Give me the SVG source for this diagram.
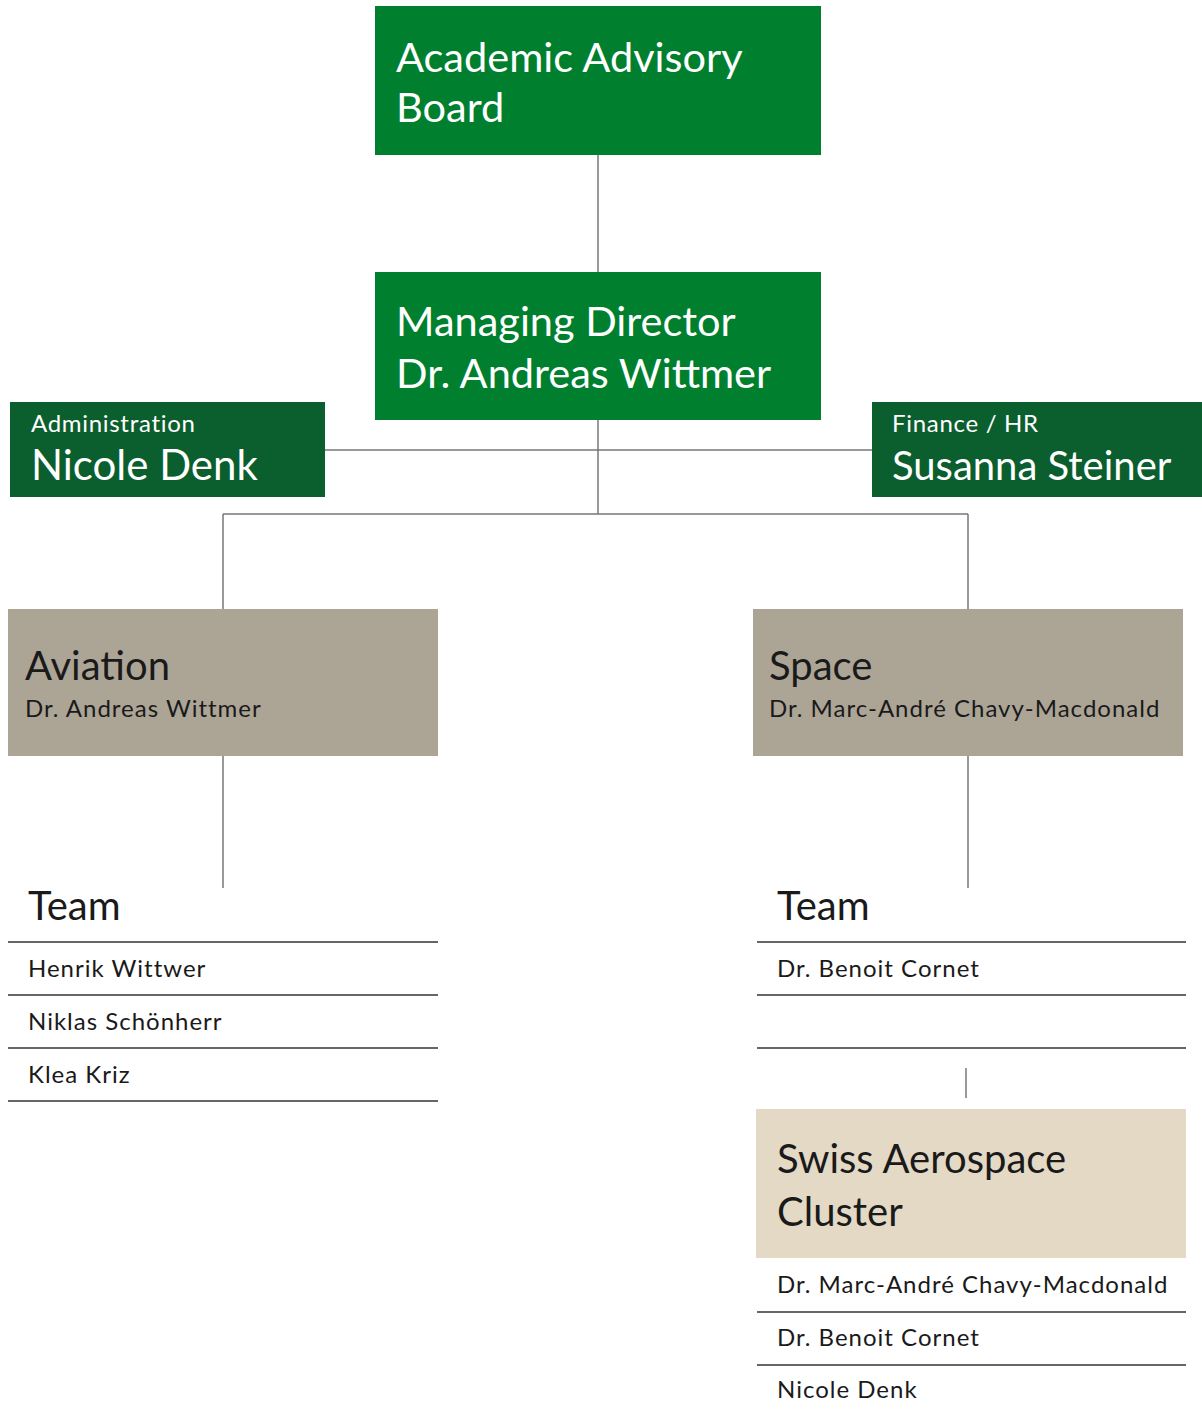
<svg xmlns="http://www.w3.org/2000/svg" width="1202" height="1415" viewBox="0 0 1202 1415">
<style>
text{font-family:Lato,"Open Sans","Liberation Sans",sans-serif}
.g1{fill:#007f2f}
.g2{fill:#0b5e2d}
.gr{fill:#aca596}
.be{fill:#e3d9c5}
.w{fill:#ffffff}
.k{fill:#1a1a1a}
.big{font-size:41.5px}
.mid{font-size:40px}
.sm{font-size:24px;letter-spacing:1px}
.conn line{stroke:#777;stroke-width:1.5}
.rule{stroke:#666;stroke-width:2}
</style>
<rect width="1202" height="1415" fill="#ffffff"/>
<g id="connectors" class="conn">
<line x1="598" y1="155" x2="598" y2="272"/>
<line x1="598" y1="420" x2="598" y2="514"/>
<line x1="325" y1="450" x2="872" y2="450"/>
<line x1="223" y1="514" x2="968" y2="514"/>
<line x1="223" y1="514" x2="223" y2="609"/>
<line x1="968" y1="514" x2="968" y2="609"/>
<line x1="223" y1="756" x2="223" y2="888"/>
<line x1="968" y1="756" x2="968" y2="888"/>
<line x1="966" y1="1068" x2="966" y2="1098"/>
</g>
<g id="academic-advisory-board">
<rect class="g1" x="375" y="6" width="446" height="149"/>
<text class="w big" x="396" y="72">Academic Advisory</text>
<text class="w big" x="396" y="122">Board</text>
</g>
<g id="managing-director">
<rect class="g1" x="375" y="272" width="446" height="148"/>
<text class="w big" x="396" y="336">Managing Director</text>
<text class="w big" x="396" y="388">Dr. Andreas Wittmer</text>
</g>
<g id="administration">
<rect class="g2" x="10" y="402" width="315" height="95"/>
<text class="w sm" x="31" y="432" style="letter-spacing:0.7px">Administration</text>
<text class="w mid" x="31" y="480" style="font-size:42px">Nicole Denk</text>
</g>
<g id="finance-hr">
<rect class="g2" x="872" y="402" width="330" height="95"/>
<text class="w sm" x="892" y="432" style="letter-spacing:0.7px">Finance / HR</text>
<text class="w mid" x="892" y="480">Susanna Steiner</text>
</g>
<g id="aviation">
<rect class="gr" x="8" y="609" width="430" height="147"/>
<text class="k mid" x="25" y="680">Aviation</text>
<text class="k sm" x="25" y="717">Dr. Andreas Wittmer</text>
</g>
<g id="space">
<rect class="gr" x="753" y="609" width="430" height="147"/>
<text class="k mid" x="769" y="680">Space</text>
<text class="k sm" x="769" y="717">Dr. Marc-André Chavy-Macdonald</text>
</g>
<g id="aviation-team">
<text class="k mid" x="28" y="920">Team</text>
<line class="rule" x1="8" y1="942" x2="438" y2="942"/>
<text class="k sm" x="28" y="977">Henrik Wittwer</text>
<line class="rule" x1="8" y1="995" x2="438" y2="995"/>
<text class="k sm" x="28" y="1030">Niklas Schönherr</text>
<line class="rule" x1="8" y1="1048" x2="438" y2="1048"/>
<text class="k sm" x="28" y="1083">Klea Kriz</text>
<line class="rule" x1="8" y1="1101" x2="438" y2="1101"/>
</g>
<g id="space-team">
<text class="k mid" x="777" y="920">Team</text>
<line class="rule" x1="757" y1="942" x2="1186" y2="942"/>
<text class="k sm" x="777" y="977">Dr. Benoit Cornet</text>
<line class="rule" x1="757" y1="995" x2="1186" y2="995"/>
<line class="rule" x1="757" y1="1048" x2="1186" y2="1048"/>
</g>
<g id="swiss-aerospace-cluster">
<rect class="be" x="756" y="1109" width="430" height="149"/>
<text class="k mid" x="777" y="1173">Swiss Aerospace</text>
<text class="k mid" x="777" y="1226">Cluster</text>
<text class="k sm" x="777" y="1293">Dr. Marc-André Chavy-Macdonald</text>
<line class="rule" x1="757" y1="1312" x2="1186" y2="1312"/>
<text class="k sm" x="777" y="1346">Dr. Benoit Cornet</text>
<line class="rule" x1="757" y1="1365" x2="1186" y2="1365"/>
<text class="k sm" x="777" y="1398">Nicole Denk</text>
</g>
</svg>
